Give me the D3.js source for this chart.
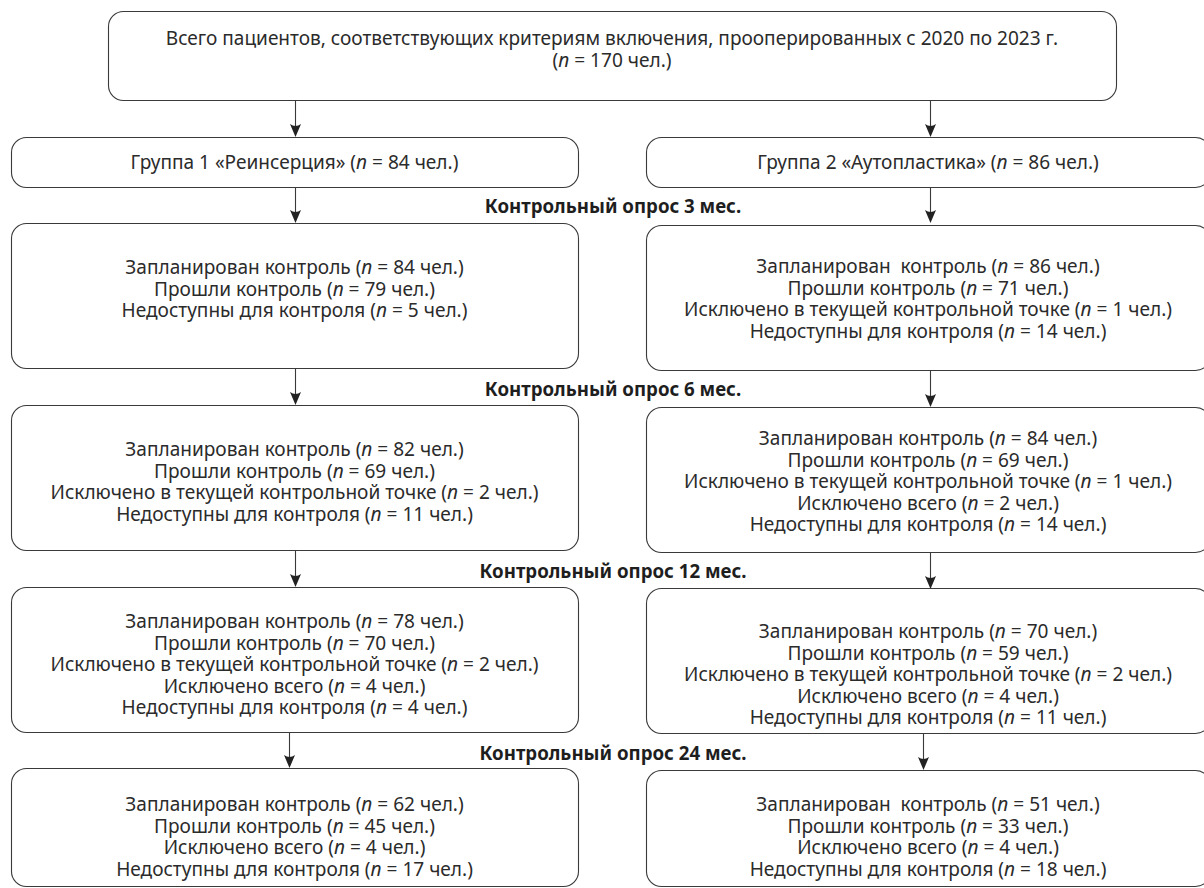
<!DOCTYPE html>
<html>
<head>
<meta charset="utf-8">
<script src="https://cdn.jsdelivr.net/npm/d3@7"></script>
<style>
  body { margin: 0; background: #fff; }
  svg text { white-space: pre; }
</style>
</head>
<body>
<svg id="chart" width="1204" height="888"></svg>
<script>
// --- data ---
const topLines = ["Всего пациентов, соответствующих критериям включения, прооперированных с 2020 по 2023 г."];
const totalN = 170;
const groupNames = ["Группа 1 «Реинсерция»", "Группа 2 «Аутопластика»"];
const groupN = [84, 86];
const stageLabels = ["Контрольный опрос 3 мес.", "Контрольный опрос 6 мес.", "Контрольный опрос 12 мес.", "Контрольный опрос 24 мес."];

// labels of the rows inside a box
const plannedLabel = ["Запланирован контроль", "Запланирован  контроль"];
const rowLabels = {
  passed: "Прошли контроль",
  exclNow: "Исключено в текущей контрольной точке",
  exclTotal: "Исключено всего",
  unavail: "Недоступны для контроля"
};

// group 1, one value per stage (null = row absent)
const g1Planned   = [84, 82, 78, 62];
const g1Passed    = [79, 69, 70, 45];
const g1ExclNow   = [null, 2, 2, null];
const g1ExclTotal = [null, null, 4, 4];
const g1Unavail   = [5, 11, 4, 17];

// group 2
const g2Planned   = [86, 84, 70, 51];
const g2Passed    = [71, 69, 59, 33];
const g2ExclNow   = [1, 1, 2, null];
const g2ExclTotal = [null, 2, 4, 4];
const g2Unavail   = [14, 14, 11, 18];

// planned label variant (double space in some boxes of the original)
const g2PlannedVariant = [1, 0, 0, 1];

// --- layout ---
const ink = "#2b2b2b";
const strokeCol = "#3a3a3a";
const fontFam = "'Noto Sans', 'Open Sans', sans-serif";
const lineH = 21.6;

const svg = d3.select("#chart");

// fit font size so that the top line is as wide as in the original (~895px)
const probe = svg.append("text").attr("font-family", fontFam).attr("font-size", 100).text(topLines[0]);
const fs = 100 * 893 / probe.node().getComputedTextLength();
probe.remove();

const colX = [{x: 11, w: 567}, {x: 646, w: 564}];
const rows = [
  {y: [223, 225], h: [145, 145], t: [267, 266]},
  {y: [405, 407], h: [145, 145], t: [449, 438]},
  {y: [587, 588], h: [145, 145], t: [621, 631]},
  {y: [768, 770], h: [118, 116], t: [804, 804]}
];
const labelY = [205, 388, 570, 752];
const arrowX = [[295, 930], [295, 930], [295, 930], [295, 930], [289, 923]];

function box(x, y, w, h) {
  svg.append("rect")
    .attr("x", x + 0.5).attr("y", y + 0.5)
    .attr("width", w).attr("height", h)
    .attr("rx", 15).attr("ry", 15)
    .attr("fill", "none").attr("stroke", strokeCol).attr("stroke-width", 1.1);
}

// a line of text with the italic "n"
function nLine(g, cx, cy, label, n) {
  const t = g.append("text")
    .attr("x", cx).attr("y", cy)
    .attr("text-anchor", "middle").attr("dominant-baseline", "central")
    .attr("font-family", fontFam).attr("font-size", fs).attr("fill", ink);
  t.append("tspan").text((label ? label + " " : "") + "(");
  t.append("tspan").attr("font-style", "italic").text("n");
  t.append("tspan").text(" = " + n + " чел.)");
}

function arrow(x, y1, y2) {
  svg.append("line")
    .attr("x1", x + 0.5).attr("x2", x + 0.5).attr("y1", y1).attr("y2", y2 - 4)
    .attr("stroke", strokeCol).attr("stroke-width", 1.1);
  const p = d3.path();
  p.moveTo(x + 0.5, y2);
  p.lineTo(x - 5, y2 - 13);
  p.quadraticCurveTo(x + 0.5, y2 - 9, x + 6, y2 - 13);
  p.closePath();
  svg.append("path").attr("d", p.toString()).attr("fill", "#222");
}

// top box
box(108, 11, 1008, 89);
svg.append("text")
  .attr("x", 612).attr("y", 38)
  .attr("text-anchor", "middle").attr("dominant-baseline", "central")
  .attr("font-family", fontFam).attr("font-size", fs).attr("fill", ink)
  .text(topLines[0]);
nLine(svg, 612, 60, "", totalN);

// group boxes
groupNames.forEach((name, i) => {
  box(colX[i].x, 137, colX[i].w, 50);
  nLine(svg, colX[i].x + colX[i].w / 2, 162, name, groupN[i]);
});

// arrows
const arrowSpans = [[100, 137], [187, 223], [368, 405], [550, 587], [732, 768]];
arrowSpans.forEach((s, k) => {
  arrow(arrowX[k][0], s[0], s[1]);
  arrow(arrowX[k][1], s[0] + (k > 1 ? 2 : 0), s[1] + (k > 1 ? 2 : 0));
});

// stage labels
stageLabels.forEach((lab, k) => {
  svg.append("text")
    .attr("x", 613).attr("y", labelY[k])
    .attr("text-anchor", "middle").attr("dominant-baseline", "central")
    .attr("font-family", fontFam).attr("font-size", fs * 0.98).attr("font-weight", "bold")
    .attr("fill", "#1e1e1e")
    .text(lab);
});

// stage boxes
const groupData = [
  {planned: g1Planned, passed: g1Passed, exclNow: g1ExclNow, exclTotal: g1ExclTotal, unavail: g1Unavail},
  {planned: g2Planned, passed: g2Passed, exclNow: g2ExclNow, exclTotal: g2ExclTotal, unavail: g2Unavail}
];

rows.forEach((r, k) => {
  groupData.forEach((gd, i) => {
    box(colX[i].x, r.y[i], colX[i].w, r.h[i]);
    const lines = [];
    const pl = i === 1 ? plannedLabel[g2PlannedVariant[k]] : plannedLabel[0];
    lines.push([pl, gd.planned[k]]);
    lines.push([rowLabels.passed, gd.passed[k]]);
    if (gd.exclNow[k] != null) lines.push([rowLabels.exclNow, gd.exclNow[k]]);
    if (gd.exclTotal[k] != null) lines.push([rowLabels.exclTotal, gd.exclTotal[k]]);
    lines.push([rowLabels.unavail, gd.unavail[k]]);
    const cx = colX[i].x + colX[i].w / 2;
    lines.forEach((ln, j) => nLine(svg, cx, r.t[i] + j * lineH, ln[0], ln[1]));
  });
});
</script>
</body>
</html>
